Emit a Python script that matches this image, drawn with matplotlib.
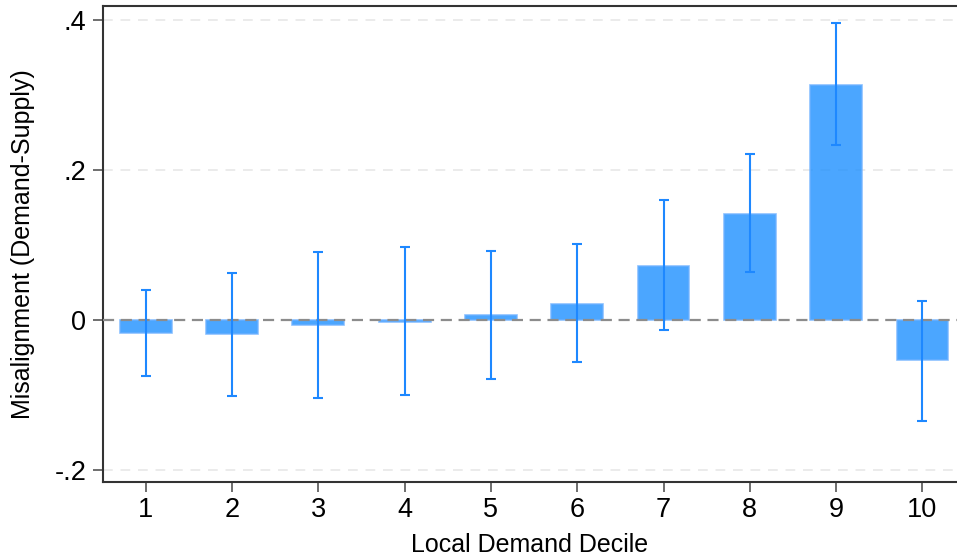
import numpy as np
import matplotlib.pyplot as plt

plt.rcParams["font.family"] = ["Liberation Sans", "DejaVu Sans"]

# data
deciles = [1, 2, 3, 4, 5, 6, 7, 8, 9, 10]
misalignment = [-0.017, -0.019, -0.006, -0.002, 0.007, 0.022, 0.072, 0.141, 0.314, -0.053]
ci_low = [-0.075, -0.101, -0.104, -0.100, -0.078, -0.056, -0.013, 0.064, 0.234, -0.134]
ci_high = [0.040, 0.063, 0.091, 0.097, 0.092, 0.101, 0.160, 0.221, 0.396, 0.026]
y_ticks = [-0.2, 0, 0.2, 0.4]
y_tick_labels = ["-.2", "0", ".2", ".4"]

vals = np.array(misalignment)
yerr = np.vstack([vals - np.array(ci_low), np.array(ci_high) - vals])

fig = plt.figure(figsize=(9.57, 5.58), dpi=100)
ax = fig.add_axes([103 / 957, 1 - 482 / 558, 1 - 103 / 957, (482 - 6) / 558])

# grid lines
for yv in y_ticks:
    if yv != 0:
        ax.axhline(yv, color="#ebebeb", lw=1.4, ls=(0, (5, 4)), zorder=0)

ax.bar(deciles, misalignment, width=0.6, color="#1e90ff", alpha=0.8,
       edgecolor="#6fb2ff", linewidth=1.2, zorder=2)
ax.axhline(0, color="#8c8c8c", lw=1.6, ls=(0, (5, 3)), zorder=3)
ax.errorbar(deciles, misalignment, yerr=yerr, fmt="none", ecolor="#1e88ff",
            elinewidth=1.5, capsize=3.5, capthick=1.5, zorder=4)

ax.set_xlim(0.505, 10.40)
ax.set_ylim(-0.216, 0.4187)
ax.set_xticks(deciles)
ax.set_yticks(y_ticks)
ax.set_yticklabels(y_tick_labels)
ax.tick_params(axis="both", labelsize=19.5, length=7, width=1.2, color="#555555", pad=5)
ax.tick_params(axis="x", pad=4)

ax.set_xlabel("Local Demand Decile", fontsize=18, labelpad=7)
ax.set_ylabel("Misalignment (Demand-Supply)", fontsize=18, labelpad=14)

for side in ["left", "bottom", "top"]:
    ax.spines[side].set_linewidth(1.5)
    ax.spines[side].set_color("#333333")
ax.spines["right"].set_visible(False)

fig.savefig("out.png", dpi=100)
